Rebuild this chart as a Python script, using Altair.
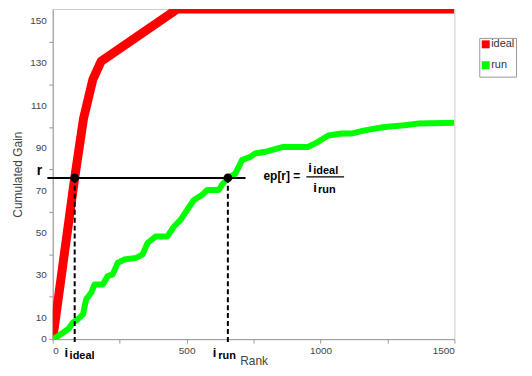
import altair as alt
import pandas as pd

# ---- data ----
ideal_rank = [0, 82, 115, 150, 181, 465, 1500]
ideal_gain = [0, 76, 104, 122.5, 131, 155.6, 155.6]

run_rank = [0, 20, 38, 60, 75, 94, 113, 125, 144, 156, 187, 205, 224, 243, 267, 311,
            335, 354, 385, 428, 453, 478, 502, 527, 558, 577, 620, 632, 654, 682, 707,
            738, 756, 794, 837, 861, 954, 991, 1029, 1078, 1115, 1165, 1239, 1313, 1363,
            1462, 1500]
run_gain = [0, 1.5, 3, 5, 7.8, 9.4, 11.7, 18.8, 21.9, 25.8, 25.8, 29.7, 30.5, 36, 37.5, 38.3,
            39.8, 45.3, 48.4, 48.4, 53.1, 56.3, 60.9, 65.6, 68, 70.3, 70.3, 72.7, 76, 78, 84.4,
            85.9, 87.5, 88.3, 89.8, 90.6, 90.6, 93, 96, 96.9, 96.9, 98.4, 100, 100.8, 101.6,
            101.9, 102]

series_names = ["ideal", "run"]
series_colors = ["#ff0000", "#00ff00"]

r_value = 76
i_ideal = 82
i_run = 654

x_ticks = [0, 250, 500, 750, 1000, 1250, 1500]
x_labels = [0, 500, 1000, 1500]
y_ticks = list(range(0, 151, 10))
y_labels = [0, 10, 30, 50, 70, 90, 110, 130, 150]

FONT = "Liberation Sans"

ideal_df = pd.DataFrame({"rank": ideal_rank, "gain": ideal_gain, "series": "ideal"})
run_df = pd.DataFrame({"rank": run_rank, "gain": run_gain, "series": "run"})
ylab_df = pd.DataFrame({"gain": y_labels, "lab": [str(v) for v in y_labels]})

x_scale = alt.Scale(domain=[0, 1500], nice=False, zero=False)
y_scale = alt.Scale(domain=[0, 155.6], nice=False, zero=False)

x_enc = alt.X("rank:Q", scale=x_scale, axis=alt.Axis(
    values=x_ticks, format="d", labelOverlap=False,
    labelOpacity={"condition": {"test": "indexof(%s, round(datum.value)) >= 0" % str(x_labels),
                                "value": 1}, "value": 0},
    title="Rank", titlePadding=1))
y_enc = alt.Y("gain:Q", scale=y_scale, axis=alt.Axis(
    values=y_ticks, labels=False, title="Cumulated Gain", titlePadding=24))

color_enc = alt.Color("series:N", scale=alt.Scale(domain=series_names, range=series_colors),
                      legend=alt.Legend(title=None, orient="none", legendX=429, legendY=29,
                                        symbolType="square", symbolSize=16, symbolStrokeWidth=4,
                                        strokeColor="#999999", padding=1, rowPadding=0,
                                        labelOffset=0, labelFontSize=11, labelFont=FONT,
                                        labelColor="#333333"))

ideal_line = alt.Chart(ideal_df).mark_line(clip=True, strokeWidth=9, strokeJoin="round").encode(
    x=x_enc, y=y_enc, color=color_enc)
run_line = alt.Chart(run_df).mark_line(clip=True, strokeWidth=6, strokeJoin="round").encode(
    x=alt.X("rank:Q", scale=x_scale), y=alt.Y("gain:Q", scale=y_scale), color=color_enc)

# y tick labels (0, 10, 30, ... 150) placed through the y scale
y_tick_labels = alt.Chart(ylab_df).mark_text(
    font=FONT, fontSize=10, color="#444444", align="right", baseline="middle").encode(
    x=alt.value(-6), y="gain:Q", text="lab:N")

# ---- annotations ----
hline_df = pd.DataFrame({"rank": [-20], "x2": [720], "gain": [r_value]})
hline = alt.Chart(hline_df).mark_rule(color="black", strokeWidth=2).encode(
    x="rank:Q", x2="x2:Q", y="gain:Q")

vl_df = pd.DataFrame({"rank": [i_ideal, i_run], "gain": [r_value, r_value], "y2": [-2.5, -2.5]})
vlines = alt.Chart(vl_df).mark_rule(color="black", strokeWidth=2, strokeDash=[5, 3]).encode(
    x="rank:Q", y="gain:Q", y2="y2:Q")
dots = alt.Chart(vl_df).mark_circle(color="black", size=75, opacity=1).encode(
    x="rank:Q", y="gain:Q")

frac_df = pd.DataFrame({"rank": [947], "x2": [1088], "gain": [76.5]})
frac = alt.Chart(frac_df).mark_rule(color="black", strokeWidth=1.2).encode(
    x="rank:Q", x2="x2:Q", y="gain:Q")

big_text = pd.DataFrame({
    "t": ["i", "i", "i", "i"],
    "rank": [44, 598, 954, 973],
    "gain": [-8.2, -8.2, 78.75, 69.4],
})
eq_text = pd.DataFrame({"t": ["ep[r] ="], "rank": [787], "gain": [75.0]})
small_text = pd.DataFrame({
    "t": ["ideal", "run", "ideal", "run"],
    "rank": [63, 618, 973, 991],
    "gain": [-9.6, -9.6, 78.0, 69.1],
})
r_text = pd.DataFrame({"t": ["r"], "rank": [-50], "gain": [77.3]})

def txt(df, size, align="left"):
    return alt.Chart(df).mark_text(font=FONT, fontSize=size, fontWeight="bold", align=align,
                                   baseline="alphabetic", color="black").encode(
        x="rank:Q", y="gain:Q", text="t:N")

chart = alt.layer(
    ideal_line, run_line, y_tick_labels, hline, vlines, dots, frac,
    txt(big_text, 13), txt(eq_text, 12), txt(small_text, 11), txt(r_text, 14, "center"),
).properties(
    width=404, height=332,
    autosize=alt.AutoSizeParams(type="none"),
    padding={"left": 45, "top": 0, "right": 70, "bottom": 30},
).configure_view(stroke="#cccccc", strokeWidth=1).configure_axis(
    grid=False, domainColor="#999999", tickColor="#999999", tickSize=4, labelOverlap=False,
    labelFont=FONT, labelFontSize=10, labelColor="#444444", labelPadding=2,
    titleFont=FONT, titleFontSize=12, titleFontWeight="normal", titleColor="#444444",
)

chart.save("out.html", embed_options={"renderer": "svg", "actions": False})
